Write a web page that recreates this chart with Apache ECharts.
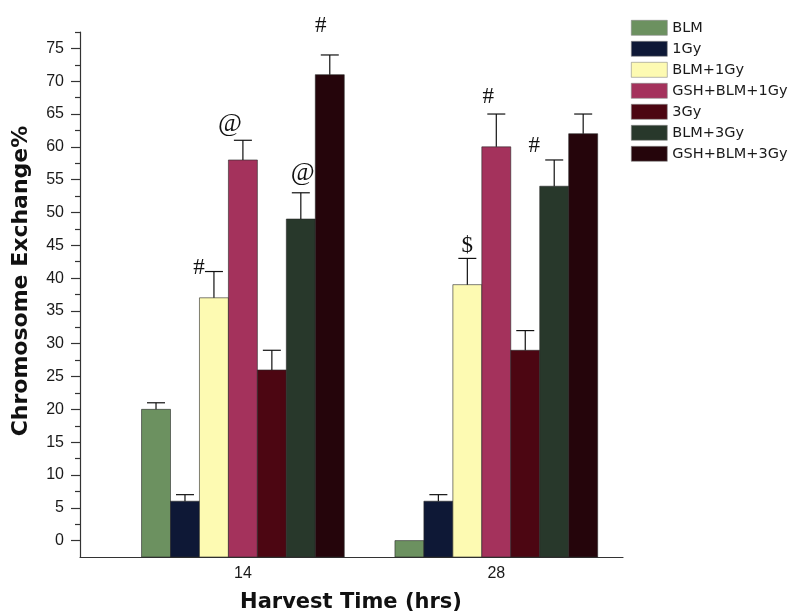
<!DOCTYPE html>
<html>
<head>
<meta charset="utf-8">
<script src="https://cdn.jsdelivr.net/npm/echarts@6/dist/echarts.min.js"></script>
<style>
  html, body { margin: 0; padding: 0; background: #fff; }
  #chart { width: 798px; height: 616px; }
</style>
</head>
<body>
<div id="chart"></div>
<script>
// Harvest times (hrs) on the x axis
const harvestTimes = [14, 28];

// Treatment groups
const groupNames = ['BLM', '1Gy', 'BLM+1Gy', 'GSH+BLM+1Gy', '3Gy', 'BLM+3Gy', 'GSH+BLM+3Gy'];

// Chromosome exchange % per group, at 14 h and 28 h
const blmValues       = [20, 0];
const gy1Values       = [6, 6];
const blmGy1Values    = [37, 39];
const gshBlmGy1Values = [58, 60];
const gy3Values       = [26, 29];
const blmGy3Values    = [49, 54];
const gshBlmGy3Values = [71, 62];

// Error (upper whisker) per group
const blmErrors       = [1, 0];
const gy1Errors       = [1, 1];
const blmGy1Errors    = [4, 4];
const gshBlmGy1Errors = [3, 5];
const gy3Errors       = [3, 3];
const blmGy3Errors    = [4, 4];
const gshBlmGy3Errors = [3, 3];

// Significance symbols per group
const blmMarks       = ['', ''];
const gy1Marks       = ['', ''];
const blmGy1Marks    = ['#', '$'];
const gshBlmGy1Marks = ['@', '#'];
const gy3Marks       = ['', ''];
const blmGy3Marks    = ['@', '#'];
const gshBlmGy3Marks = ['#', ''];

// Y axis tick labels
const yTickLabels = [0, 5, 10, 15, 20, 25, 30, 35, 40, 45, 50, 55, 60, 65, 70, 75];

const allValues = [blmValues, gy1Values, blmGy1Values, gshBlmGy1Values, gy3Values, blmGy3Values, gshBlmGy3Values];
const allErrors = [blmErrors, gy1Errors, blmGy1Errors, gshBlmGy1Errors, gy3Errors, blmGy3Errors, gshBlmGy3Errors];
const allMarks  = [blmMarks, gy1Marks, blmGy1Marks, gshBlmGy1Marks, gy3Marks, blmGy3Marks, gshBlmGy3Marks];

// ---- styling ----
const colors = ['#6c9160', '#0e1836', '#fdfab2', '#a4325c', '#4c0612', '#28382b', '#25050b'];
const Y_MIN = -2.5, Y_MAX = 77.5;
const BAR_UNITS = 1.6;      // bar width in x-axis units
const CAP_HALF = 9;         // half width of error caps (px)
// placement of the symbols relative to the error cap: [seriesIndex]-[timeIndex] -> [dx, dy, size]
const markPlacement = {
  '2-0': [-15, -4, 23], '2-1': [0, -12, 23],
  '3-0': [-13, -16, 26], '3-1': [-8, -17, 23],
  '5-0': [2, -20, 26],  '5-1': [-20, -14, 23],
  '6-0': [-9, -29, 23]
};

const minorTicks = [];
for (let v = 2.5; v <= Y_MAX; v += 5) minorTicks.push(v);

function makeSeries(si) {
  const data = harvestTimes.map((t, k) => [t, allValues[si][k], allErrors[si][k]]);
  return {
    type: 'custom',
    name: groupNames[si],
    itemStyle: { color: colors[si], borderColor: '#555', borderWidth: 0.8 },
    encode: { x: 0, y: 1 },
    data: data,
    z: 2,
    renderItem: function (params, api) {
      const x = api.value(0), v = api.value(1), e = api.value(2);
      const w = api.size([BAR_UNITS, 0])[0];
      const base = api.coord([x, Y_MIN]);
      const top = api.coord([x, v]);
      const cx = base[0] + (si - 3) * w;
      const children = [{
        type: 'rect',
        shape: { x: cx - w / 2, y: top[1], width: w, height: base[1] - top[1] },
        style: { fill: colors[si], stroke: 'rgba(40,40,40,0.75)', lineWidth: 0.8 }
      }];
      let capY = top[1];
      if (e > 0) {
        const cap = api.coord([x, v + e]);
        capY = cap[1];
        children.push({
          type: 'line',
          shape: { x1: cx, y1: top[1], x2: cx, y2: cap[1] },
          style: { stroke: '#111', lineWidth: 1.2 }
        });
        children.push({
          type: 'line',
          shape: { x1: cx - CAP_HALF, y1: cap[1], x2: cx + CAP_HALF, y2: cap[1] },
          style: { stroke: '#111', lineWidth: 1.2 }
        });
      }
      const mark = allMarks[si][params.dataIndex];
      if (mark) {
        const p = markPlacement[si + '-' + params.dataIndex] || [0, -14, 23];
        children.push({
          type: 'text',
          x: cx + p[0],
          y: capY + p[1],
          style: {
            text: mark,
            fill: '#111',
            font: p[2] + 'px "Liberation Serif", "DejaVu Serif", serif',
            align: 'center',
            verticalAlign: 'middle'
          }
        });
      }
      return { type: 'group', children: children };
    }
  };
}

const chart = echarts.init(document.getElementById('chart'), null, { renderer: 'canvas' });

chart.setOption({
  backgroundColor: '#ffffff',
  animation: false,
  grid: { left: 80, right: 175, top: 32, bottom: 59, containLabel: false },
  legend: {
    orient: 'vertical',
    left: 626,
    top: 15,
    icon: 'rect',
    itemWidth: 36,
    itemHeight: 15,
    itemGap: 5.4,
    selectedMode: false,
    data: groupNames,
    itemStyle: { borderColor: '#888', borderWidth: 0.6 },
    textStyle: {
      fontFamily: '"DejaVu Sans", sans-serif',
      fontSize: 14.5,
      color: '#1a1a1a',
      lineHeight: 15,
      padding: [0, 0, 0, 0]
    }
  },
  xAxis: {
    type: 'value',
    min: 5,
    max: 35,
    interval: 1,
    axisLine: { show: true, onZero: false, lineStyle: { color: '#333', width: 1.2 } },
    axisTick: { show: false },
    splitLine: { show: false },
    axisLabel: {
      customValues: harvestTimes,
      margin: 9,
      fontFamily: '"Liberation Sans", Arial, sans-serif',
      fontSize: 16,
      color: '#1a1a1a'
    }
  },
  yAxis: [{
    type: 'value',
    min: Y_MIN,
    max: Y_MAX,
    interval: 2.5,
    axisLine: { show: true, onZero: false, lineStyle: { color: '#333', width: 1.2 } },
    axisTick: { show: true, customValues: yTickLabels, length: 9, lineStyle: { color: '#333', width: 1.2 } },
    splitLine: { show: false },
    axisLabel: {
      customValues: yTickLabels,
      margin: 16,
      fontFamily: '"Liberation Sans", Arial, sans-serif',
      fontSize: 16,
      color: '#1a1a1a'
    }
  }, {
    type: 'value',
    min: Y_MIN,
    max: Y_MAX,
    interval: 2.5,
    position: 'left',
    axisLine: { show: false, onZero: false },
    axisTick: { show: true, customValues: minorTicks, length: 5, lineStyle: { color: '#333', width: 1.2 } },
    splitLine: { show: false },
    axisLabel: { show: false }
  }],
  graphic: [{
    type: 'text',
    x: 21,
    y: 281,
    rotation: Math.PI / 2,
    style: {
      text: 'Chromosome Exchange%',
      font: 'bold 22px "DejaVu Sans", sans-serif',
      fill: '#111',
      align: 'center',
      verticalAlign: 'middle'
    }
  }, {
    type: 'text',
    x: 351,
    y: 603,
    style: {
      text: 'Harvest Time (hrs)',
      font: 'bold 21px "DejaVu Sans", sans-serif',
      fill: '#111',
      align: 'center',
      verticalAlign: 'middle'
    }
  }],
  series: groupNames.map((n, i) => makeSeries(i))
});
</script>
</body>
</html>
